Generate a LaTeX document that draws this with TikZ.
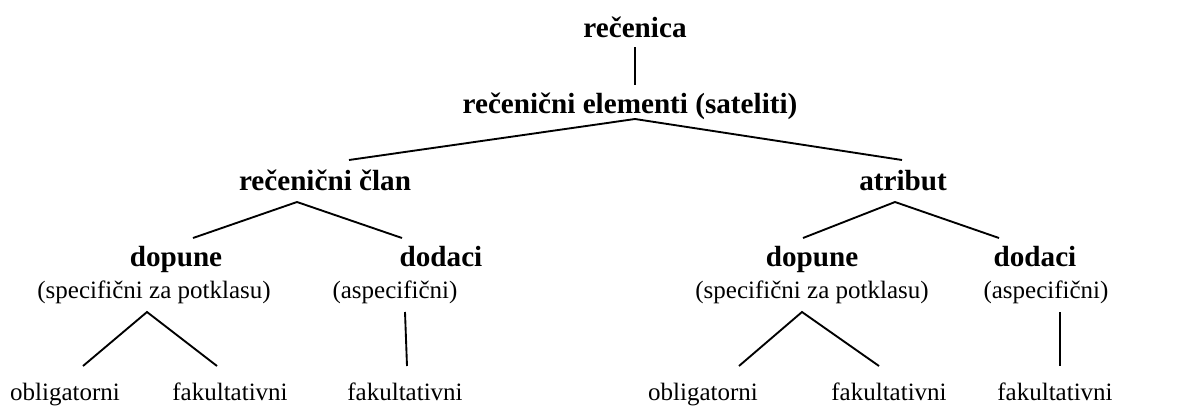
\documentclass[tikz,border=0pt]{standalone}
\usepackage{fontspec}
\setmainfont{Liberation Serif}
\begin{document}
\begin{tikzpicture}[x=0.48pt,y=-0.48pt,
  bt/.style={anchor=base,inner sep=0pt,font=\fontsize{14}{16}\selectfont\bfseries},
  rt/.style={anchor=base,inner sep=0pt,font=\fontsize{12}{14}\selectfont},
  ln/.style={line width=0.9pt}]
\useasboundingbox[fill=white] (0,0) rectangle (1186,407);
% nodes
\node[bt] (rec) at (635,37) {rečenica};
\node[bt] (el) at (630,113) {rečenični elementi (sateliti)};
\node[bt] (clan) at (325,190) {rečenični član};
\node[bt] (atr) at (903,190) {atribut};
\node[bt] (dopL) at (176,266) {dopune};
\node[rt] (specL) at (154,298) {(specifični za potklasu)};
\node[bt] (dodL) at (441,266) {dodaci};
\node[rt] (aspL) at (395,298) {(aspecifični)};
\node[bt] (dopR) at (812,266) {dopune};
\node[rt] (specR) at (812,298) {(specifični za potklasu)};
\node[bt] (dodR) at (1035,266) {dodaci};
\node[rt] (aspR) at (1046,298) {(aspecifični)};
\node[rt] (obL) at (65,400) {obligatorni};
\node[rt] (fkL1) at (230,400) {fakultativni};
\node[rt] (fkL2) at (405,400) {fakultativni};
\node[rt] (obR) at (703,400) {obligatorni};
\node[rt] (fkR1) at (889,400) {fakultativni};
\node[rt] (fkR2) at (1055,400) {fakultativni};
% connector points
\coordinate (c0a) at (635,47); \coordinate (c0b) at (635,85);
\coordinate (c1) at (635,119); \coordinate (c1l) at (349,160); \coordinate (c1r) at (902,160);
\coordinate (c2) at (297,202); \coordinate (c2l) at (193,238); \coordinate (c2r) at (402,238);
\coordinate (c3) at (895,202); \coordinate (c3l) at (803,238); \coordinate (c3r) at (999,238);
\coordinate (c4) at (147,312); \coordinate (c4l) at (83,366); \coordinate (c4r) at (217,366);
\coordinate (c5a) at (405,312); \coordinate (c5b) at (407,366);
\coordinate (c6) at (802,312); \coordinate (c6l) at (739,366); \coordinate (c6r) at (879,366);
\coordinate (c7a) at (1060,312); \coordinate (c7b) at (1060,366);
% connectors
\draw[ln] (c0a) -- (c0b);
\draw[ln] (c1l) -- (c1) -- (c1r);
\draw[ln] (c2l) -- (c2) -- (c2r);
\draw[ln] (c3l) -- (c3) -- (c3r);
\draw[ln] (c4l) -- (c4) -- (c4r);
\draw[ln] (c5a) -- (c5b);
\draw[ln] (c6l) -- (c6) -- (c6r);
\draw[ln] (c7a) -- (c7b);
\end{tikzpicture}
\end{document}
